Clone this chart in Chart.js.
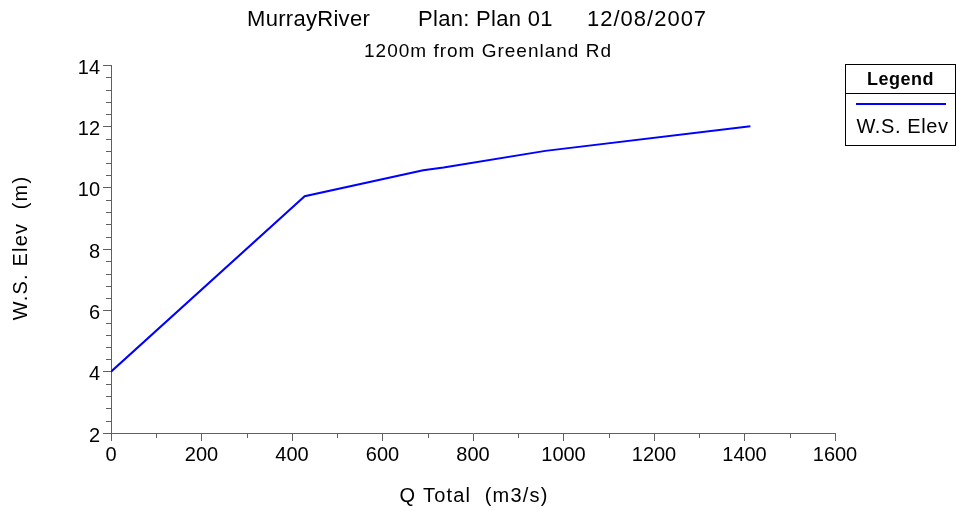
<!DOCTYPE html>
<html>
<head>
<meta charset="utf-8">
<script src="https://cdn.jsdelivr.net/npm/chart.js@4.4.1/dist/chart.umd.min.js"></script>
<style>
  html, body { margin: 0; padding: 0; background: #ffffff; }
  #wrap { width: 957px; height: 511px; }
</style>
</head>
<body>
<div id="wrap"><canvas id="c" width="957" height="511"></canvas></div>
<script>
// ---- data ----
const titleParts = ["MurrayRiver", "Plan: Plan 01", "12/08/2007"];
const subtitleText = "1200m from Greenland Rd";
const seriesLabel = "W.S. Elev";
const xAxisTitle = "Q Total  (m3/s)";
const yAxisTitle = "W.S. Elev  (m)";
const flowValues = [0, 428, 690, 735, 960, 1413];
const elevValues = [4.0, 9.72, 10.57, 10.66, 11.2, 12.0];
const xTicks = [0, 200, 400, 600, 800, 1000, 1200, 1400, 1600];
const yTicks = [2, 4, 6, 8, 10, 12, 14];

const FONT = "'Liberation Sans', Arial, sans-serif";
const AXIS_COLOR = '#606060';

const points = flowValues.map((x, i) => ({ x: x, y: elevValues[i] }));

const decor = {
  id: 'decor',
  afterDraw(chart) {
    const ctx = chart.ctx;
    const xs = chart.scales.x, ys = chart.scales.y;
    const ca = chart.chartArea;
    ctx.save();
    // minor ticks
    ctx.strokeStyle = AXIS_COLOR;
    ctx.lineWidth = 1;
    ctx.beginPath();
    for (let v = 100; v < 1600; v += 200) {
      const px = Math.round(xs.getPixelForValue(v)) + 0.5;
      ctx.moveTo(px, ca.bottom);
      ctx.lineTo(px, ca.bottom + 5);
    }
    for (let k = 0; k <= 30; k++) {
      const v = 2 + k * 0.4;
      if (k % 5 === 0) continue;
      const py = Math.round(ys.getPixelForValue(v)) + 0.5;
      ctx.moveTo(ca.left, py);
      ctx.lineTo(ca.left - 5, py);
    }
    ctx.stroke();

    // titles
    ctx.fillStyle = '#000';
    ctx.textBaseline = 'alphabetic';
    ctx.textAlign = 'left';
    ctx.font = '22px ' + FONT;
    ctx.letterSpacing = '0.3px';
    ctx.fillText(titleParts[0], 247, 26);
    ctx.fillText(titleParts[1], 418, 26);
    ctx.letterSpacing = '1px';
    ctx.fillText(titleParts[2], 587, 26);
    ctx.textAlign = 'center';
    ctx.font = '19px ' + FONT;
    ctx.letterSpacing = '1px';
    ctx.fillText(subtitleText, 488, 57);

    // axis titles
    ctx.font = '20px ' + FONT;
    ctx.letterSpacing = '1.2px';
    ctx.fillText(xAxisTitle, 474, 502);
    ctx.save();
    ctx.translate(27, 248);
    ctx.rotate(-Math.PI / 2);
    ctx.fillText(yAxisTitle, 0, 0);
    ctx.restore();

    // legend box
    const lx = 845.5, ly = 64.5, lw = 110, lh = 81;
    ctx.strokeStyle = '#000';
    ctx.lineWidth = 1;
    ctx.strokeRect(lx, ly, lw, lh);
    ctx.beginPath();
    ctx.moveTo(lx, 93.5);
    ctx.lineTo(lx + lw, 93.5);
    ctx.stroke();
    ctx.font = 'bold 18px ' + FONT;
    ctx.letterSpacing = '0.5px';
    ctx.fillText('Legend', lx + lw / 2, 85);
    ctx.strokeStyle = '#0000ff';
    ctx.lineWidth = 2;
    ctx.beginPath();
    ctx.moveTo(856, 104);
    ctx.lineTo(946, 104);
    ctx.stroke();
    ctx.font = '20px ' + FONT;
    ctx.letterSpacing = '0.6px';
    ctx.fillText(chart.data.datasets[0].label, lx + lw / 2 + 2, 133);
    ctx.restore();
  }
};

new Chart(document.getElementById('c'), {
  type: 'line',
  data: {
    datasets: [{
      label: seriesLabel,
      data: points,
      borderColor: '#0000ff',
      borderWidth: 2,
      pointRadius: 0,
      fill: false,
      tension: 0
    }]
  },
  options: {
    responsive: false,
    animation: false,
    devicePixelRatio: 1,
    layout: { padding: { left: 0, top: 65, right: 122, bottom: 0 } },
    plugins: { legend: { display: false }, title: { display: false }, tooltip: { enabled: false } },
    scales: {
      x: {
        type: 'linear',
        min: 0, max: 1600,
        afterBuildTicks: (s) => { s.ticks = xTicks.map(v => ({ value: v })); },
        afterFit: (s) => { s.height = 78; },
        grid: { display: true, drawOnChartArea: false, tickLength: 8, color: AXIS_COLOR, tickColor: AXIS_COLOR },
        border: { display: true, color: AXIS_COLOR, width: 1 },
        ticks: { color: '#000', font: { family: FONT, size: 20 }, padding: 2, maxRotation: 0, autoSkip: false,
                 callback: (v) => String(v) }
      },
      y: {
        type: 'linear',
        min: 2, max: 14,
        afterBuildTicks: (s) => { s.ticks = yTicks.map(v => ({ value: v })); },
        afterFit: (s) => { s.width = 111; },
        grid: { display: true, drawOnChartArea: false, tickLength: 8, color: AXIS_COLOR, tickColor: AXIS_COLOR },
        border: { display: true, color: AXIS_COLOR, width: 1 },
        ticks: { color: '#000', font: { family: FONT, size: 20 }, padding: 3, autoSkip: false, labelOffset: 3,
                 callback: (v) => String(v) }
      }
    }
  },
  plugins: [decor]
});
</script>
</body>
</html>
